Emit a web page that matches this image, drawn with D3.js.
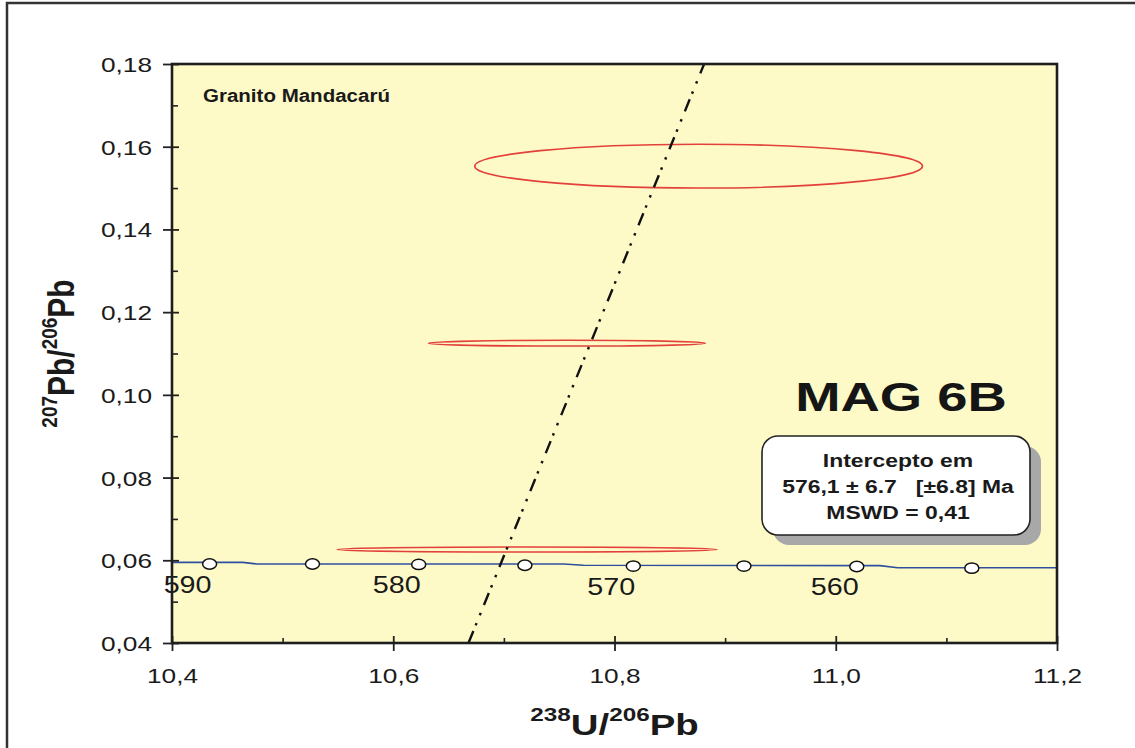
<!DOCTYPE html>
<html>
<head>
<meta charset="utf-8">
<script src="https://cdn.jsdelivr.net/npm/d3@7"></script>
<style>
  html, body { margin: 0; padding: 0; background: #fff; }
  svg { display: block; font-family: "Liberation Sans", Arial, sans-serif; }
</style>
</head>
<body>
<svg id="chart" width="1135" height="748"></svg>
<script>
// axis ranges / ticks
const xDomain = [10.4, 11.2]
const yDomain = [0.04, 0.18]
const xMajor = [10.4, 10.6, 10.8, 11.0, 11.2]
const xMinor = [10.5, 10.7, 10.9, 11.1]
const yMajor = [0.04, 0.06, 0.08, 0.10, 0.12, 0.14, 0.16, 0.18]
const yMinor = [0.05, 0.07, 0.09, 0.11, 0.13, 0.15, 0.17]

// concordia curve
const concX = [10.40, 10.464, 10.477, 10.754, 10.772, 11.040, 11.056, 11.20]
const concY = [0.0595, 0.0595, 0.0591, 0.0591, 0.0588, 0.0587, 0.0582, 0.0582]

// age markers on the concordia
const ages = [590, 585, 580, 575, 570, 565, 560, 555]
const ageX = [10.434, 10.527, 10.623, 10.719, 10.817, 10.917, 11.019, 11.123]
const ageY = [0.0591, 0.0591, 0.0590, 0.0588, 0.0586, 0.0586, 0.0585, 0.0581]
const labelledAges = [590, 580, 570, 560]

// error ellipses: centre and semi axes
const ellCx = [10.876, 10.757, 10.721]
const ellCy = [0.1553, 0.1125, 0.0626]
const ellA = [0.2024, 0.1252, 0.1718]
const ellB = [0.0053, 0.0007, 0.0006]

// discordia line, two points
const discX = [10.668, 10.881]
const discY = [0.04, 0.18]

const sampleName = "Granito Mandacarú"
const sampleCode = "MAG 6B"
const resultLines = ["Intercepto em", "576,1 ± 6.7   [±6.8] Ma", "MSWD = 0,41"]

const margin = {left: 172, top: 64, right: 78, bottom: 105}
const W = 1135, H = 748
const SX = 1.25 // text in the original is stretched horizontally

const svg = d3.select("#chart")
const x = d3.scaleLinear().domain(xDomain).range([margin.left, W - margin.right])
const y = d3.scaleLinear().domain(yDomain).range([H - margin.bottom, margin.top])
const comma = d => d3.format(".2f")(d).replace(".", ",")
const commaX = d => d3.format(".1f")(d).replace(".", ",")

// outer frame
svg.append("rect")
    .attr("x", 7).attr("y", 3)
    .attr("width", W + 20).attr("height", H + 20)
    .attr("fill", "none").attr("stroke", "#333").attr("stroke-width", 2.5)

// plot background
svg.append("rect")
    .attr("x", x.range()[0]).attr("y", y.range()[1])
    .attr("width", x.range()[1] - x.range()[0])
    .attr("height", y.range()[0] - y.range()[1])
    .attr("fill", "#fefac8")

svg.append("clipPath").attr("id", "clip")
    .append("rect")
    .attr("x", x.range()[0]).attr("y", y.range()[1])
    .attr("width", x.range()[1] - x.range()[0])
    .attr("height", y.range()[0] - y.range()[1])

const plot = svg.append("g").attr("clip-path", "url(#clip)")

// concordia
plot.append("path")
    .datum(concX.map((d, i) => [d, concY[i]]))
    .attr("fill", "none")
    .attr("stroke", "#2f4f9e")
    .attr("stroke-width", 1.6)
    .attr("d", d3.line().x(d => x(d[0])).y(d => y(d[1])))

// error ellipses
plot.selectAll("ellipse.err")
    .data(ellCx.map((d, i) => ({cx: d, cy: ellCy[i], a: ellA[i], b: ellB[i]})))
    .join("ellipse")
    .attr("class", "err")
    .attr("cx", d => x(d.cx))
    .attr("cy", d => y(d.cy))
    .attr("rx", d => x(d.cx + d.a) - x(d.cx))
    .attr("ry", d => y(d.cy - d.b) - y(d.cy))
    .attr("fill", "none")
    .attr("stroke", "#e2403a")
    .attr("stroke-width", 1.6)

// discordia
plot.append("line")
    .attr("x1", x(discX[0])).attr("y1", y(discY[0]))
    .attr("x2", x(discX[1])).attr("y2", y(discY[1]))
    .attr("stroke", "#111")
    .attr("stroke-width", 2.4)
    .attr("stroke-dasharray", "13,6,2.5,8.5,2.5,8.5")

// age markers
const ageData = ages.map((a, i) => ({age: a, x: ageX[i], y: ageY[i]}))
plot.selectAll("ellipse.age")
    .data(ageData)
    .join("ellipse")
    .attr("class", "age")
    .attr("cx", d => x(d.x)).attr("cy", d => y(d.y))
    .attr("rx", 7).attr("ry", 5.2)
    .attr("fill", "#fff").attr("stroke", "#111").attr("stroke-width", 1.5)

svg.selectAll("text.age")
    .data(ageData.filter(d => labelledAges.includes(d.age)))
    .join("text")
    .attr("class", "age")
    .attr("transform", d => `translate(${x(d.x) - 22},${y(d.y) + 29}) scale(${SX},1)`)
    .attr("text-anchor", "middle")
    .attr("font-size", 23)
    .attr("fill", "#1a1a1a")
    .text(d => d.age)

// axes
const y0 = y.range()[0]
const x0 = x.range()[0]

const yAxis = svg.append("g")
    .attr("transform", `translate(${x0},0)`)
    .call(d3.axisLeft(y).tickValues(yMajor).tickSize(9).tickPadding(0).tickFormat(comma))
yAxis.select(".domain").remove()
yAxis.selectAll("line").attr("stroke", "#222").attr("stroke-width", 1.8)
yAxis.selectAll("text")
    .attr("x", -20 / SX).attr("dy", "0.36em")
    .attr("transform", `scale(${SX},1)`)
    .attr("font-size", 21).attr("fill", "#1a1a1a")

svg.append("g").attr("transform", `translate(${x0},0)`)
    .call(d3.axisRight(y).tickValues(yMajor).tickSize(7).tickFormat(""))
    .call(g => g.select(".domain").remove())
    .selectAll("line").attr("stroke", "#222").attr("stroke-width", 1.8)
svg.append("g").attr("transform", `translate(${x0},0)`)
    .call(d3.axisRight(y).tickValues(yMinor).tickSize(6).tickFormat(""))
    .call(g => g.select(".domain").remove())
    .selectAll("line").attr("stroke", "#222").attr("stroke-width", 1.6)

const xAxis = svg.append("g")
    .attr("transform", `translate(0,${y0})`)
    .call(d3.axisBottom(x).tickValues(xMajor).tickSize(8).tickPadding(0).tickFormat(commaX))
xAxis.select(".domain").remove()
xAxis.selectAll("line").attr("stroke", "#222").attr("stroke-width", 1.8)
xAxis.selectAll("text")
    .attr("y", 40).attr("dy", 0)
    .attr("transform", `scale(${SX},1)`)
    .attr("font-size", 21).attr("fill", "#1a1a1a")

svg.append("g").attr("transform", `translate(0,${y0})`)
    .call(d3.axisTop(x).tickValues(xMajor).tickSize(7).tickFormat(""))
    .call(g => g.select(".domain").remove())
    .selectAll("line").attr("stroke", "#222").attr("stroke-width", 1.8)
svg.append("g").attr("transform", `translate(0,${y0})`)
    .call(d3.axisTop(x).tickValues(xMinor).tickSize(5).tickFormat(""))
    .call(g => g.select(".domain").remove())
    .selectAll("line").attr("stroke", "#222").attr("stroke-width", 1.6)

// plot border
svg.append("rect")
    .attr("x", x.range()[0]).attr("y", y.range()[1])
    .attr("width", x.range()[1] - x.range()[0])
    .attr("height", y.range()[0] - y.range()[1])
    .attr("fill", "none").attr("stroke", "#1e1e1e").attr("stroke-width", 2.6)

// axis titles
function ratioTitle(g, supA, mainA, supB, mainB) {
    g.append("tspan").attr("font-size", 19).attr("dy", -14).text(supA)
    g.append("tspan").attr("font-size", 30).attr("dy", 14).text(mainA + "/")
    g.append("tspan").attr("font-size", 19).attr("dy", -14).text(supB)
    g.append("tspan").attr("font-size", 30).attr("dy", 14).text(mainB)
}
const cxPlot = (x.range()[0] + x.range()[1]) / 2
const cyPlot = (y.range()[0] + y.range()[1]) / 2

const xt = svg.append("text")
    .attr("transform", `translate(${cxPlot},735) scale(1.28,1)`)
    .attr("text-anchor", "middle").attr("font-weight", "bold").attr("fill", "#1a1a1a")
ratioTitle(xt, "238", "U", "206", "Pb")

const yt = svg.append("text")
    .attr("transform", `translate(74,${cyPlot}) scale(1.2,1) rotate(-90)`)
    .attr("text-anchor", "middle").attr("font-weight", "bold").attr("fill", "#1a1a1a")
ratioTitle(yt, "207", "Pb", "206", "Pb")

// annotations
svg.append("text")
    .attr("transform", `translate(203,102) scale(1.08,1)`)
    .attr("font-size", 19).attr("font-weight", "bold").attr("fill", "#1a1a1a")
    .text(sampleName)

svg.append("text")
    .attr("transform", `translate(901,411) scale(1.36,1)`)
    .attr("text-anchor", "middle")
    .attr("font-size", 40).attr("font-weight", "bold").attr("fill", "#151515")
    .text(sampleCode)

const box = {x: 762, y: 436, w: 268, h: 99}
svg.append("rect")
    .attr("x", box.x + 11).attr("y", box.y + 10)
    .attr("width", box.w).attr("height", box.h).attr("rx", 16)
    .attr("fill", "#a8a8a8")
svg.append("rect")
    .attr("x", box.x).attr("y", box.y)
    .attr("width", box.w).attr("height", box.h).attr("rx", 16)
    .attr("fill", "#fff").attr("stroke", "#222").attr("stroke-width", 1.6)

svg.selectAll("text.res")
    .data(resultLines)
    .join("text")
    .attr("class", "res")
    .attr("transform", (d, i) => `translate(${box.x + box.w / 2 + 2},${467 + i * 25.8}) scale(1.24,1)`)
    .attr("text-anchor", "middle")
    .attr("font-size", 18.5).attr("font-weight", "bold").attr("fill", "#1a1a1a")
    .style("white-space", "pre")
    .text(d => d)
</script>
</body>
</html>
